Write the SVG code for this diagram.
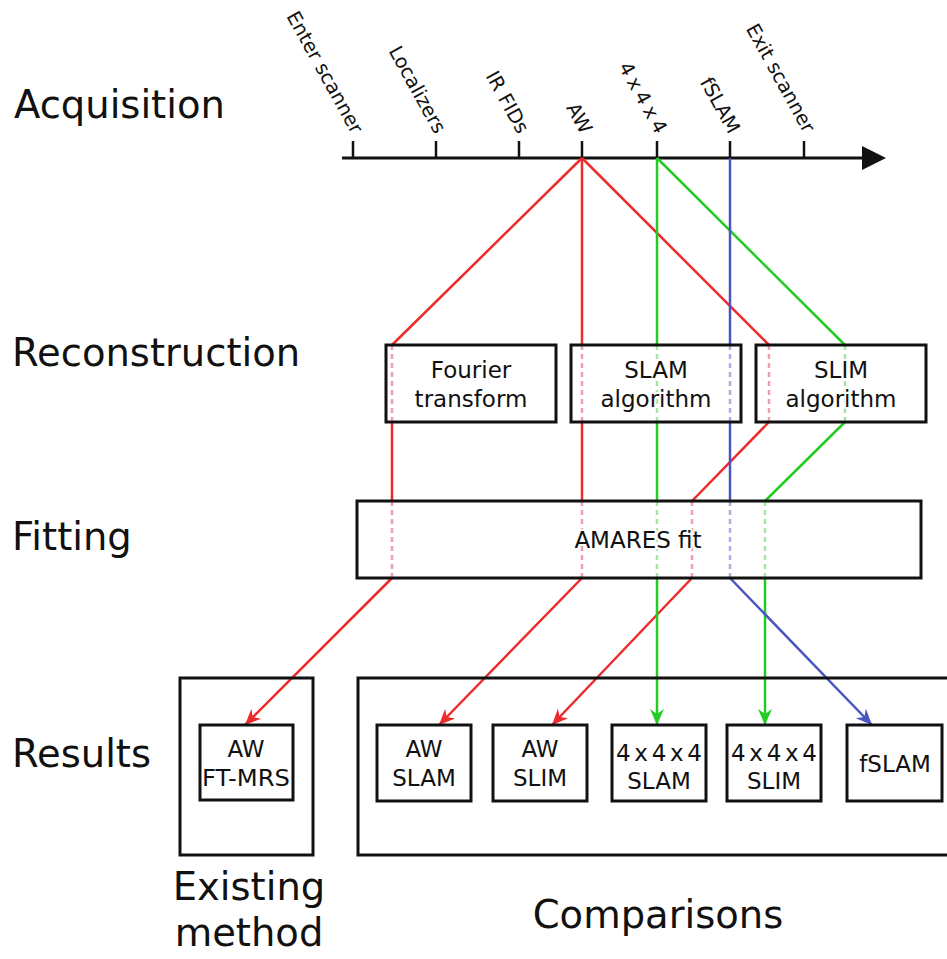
<svg xmlns="http://www.w3.org/2000/svg" width="947" height="959" viewBox="0 0 947 959">
<defs>
<style>
.lbl{font-family:"DejaVu Sans","Verdana",sans-serif;font-size:38.5px;fill:#111}
.tl{font-family:"DejaVu Sans","Verdana",sans-serif;font-size:19.5px;fill:#111}
.bt{font-family:"DejaVu Sans","Verdana",sans-serif;font-size:23px;fill:#111;text-anchor:middle;paint-order:stroke;stroke:#fff;stroke-width:4px;stroke-linejoin:round}
.box{fill:none;stroke:#111;stroke-width:3}
.frame{fill:none;stroke:#111;stroke-width:3}
.r{stroke:#ee2a2a;stroke-width:2.5;fill:none}
.g{stroke:#22cc22;stroke-width:2.5;fill:none}
.b{stroke:#4a55c0;stroke-width:2.5;fill:none}
.rd{stroke:#f0a0a8;stroke-width:2.5;fill:none;stroke-dasharray:5 4}
.gd{stroke:#a8e6a8;stroke-width:2.5;fill:none;stroke-dasharray:5 4}
.bd{stroke:#a8b0e0;stroke-width:2.5;fill:none;stroke-dasharray:5 4}
</style>
<marker id="ar" markerUnits="userSpaceOnUse" viewBox="-17 -8 19 16" refX="0" refY="0" markerWidth="19" markerHeight="16" orient="auto"><path d="M0,0 L-16,-7 L-11,0 L-16,7 Z" fill="#ee2a2a"/></marker>
<marker id="ag" markerUnits="userSpaceOnUse" viewBox="-17 -8 19 16" refX="0" refY="0" markerWidth="19" markerHeight="16" orient="auto"><path d="M0,0 L-16,-7 L-11,0 L-16,7 Z" fill="#22cc22"/></marker>
<marker id="ab" markerUnits="userSpaceOnUse" viewBox="-17 -8 19 16" refX="0" refY="0" markerWidth="19" markerHeight="16" orient="auto"><path d="M0,0 L-16,-7 L-11,0 L-16,7 Z" fill="#4a55c0"/></marker>
</defs>
<rect width="947" height="959" fill="#fff"/>

<g id="stage-labels">
<text class="lbl" x="14" y="118">Acquisition</text>
<text class="lbl" x="12" y="366">Reconstruction</text>
<text class="lbl" x="12" y="550">Fitting</text>
<text class="lbl" x="12" y="767">Results</text>
<text class="lbl" x="249" y="900" text-anchor="middle">Existing</text>
<text class="lbl" x="249" y="946" text-anchor="middle">method</text>
<text class="lbl" x="658" y="928" text-anchor="middle">Comparisons</text>
</g>

<g id="timeline">
<line x1="342" y1="158" x2="864" y2="158" stroke="#111" stroke-width="3"/>
<polygon points="862,146 886,158 862,170" fill="#111"/>
<g stroke="#111" stroke-width="2.5">
<line x1="353" y1="141" x2="353" y2="158"/>
<line x1="436" y1="141" x2="436" y2="158"/>
<line x1="519" y1="141" x2="519" y2="158"/>
<line x1="582" y1="141" x2="582" y2="158"/>
<line x1="657" y1="141" x2="657" y2="158"/>
<line x1="730" y1="141" x2="730" y2="158"/>
<line x1="804" y1="141" x2="804" y2="158"/>
</g>
<g text-anchor="end">
<text class="tl" transform="translate(352,135) rotate(61)">Enter scanner</text>
<text class="tl" transform="translate(435,135) rotate(61)">Localizers</text>
<text class="tl" transform="translate(518,135) rotate(61)">IR FIDs</text>
<text class="tl" transform="translate(581,135) rotate(61)">AW</text>
<text class="tl" transform="translate(656,135) rotate(61)" textLength="78">4 x 4 x 4</text>
<text class="tl" transform="translate(729,135) rotate(61)">fSLAM</text>
<text class="tl" transform="translate(804,134) rotate(61)">Exit scanner</text>
</g>
</g>

<g id="connectors">
<!-- red: AW to FT-MRS -->
<path class="r" d="M582,158 L392,345"/><path class="rd" d="M392,345 V422"/><path class="r" d="M392,422 V501"/><path class="rd" d="M392,501 V578"/><path class="r" d="M392,578 L245,725" marker-end="url(#ar)"/>
<!-- red: AW to AW SLAM -->
<path class="r" d="M582,158 V345"/><path class="rd" d="M582,345 V422"/><path class="r" d="M582,422 V501"/><path class="rd" d="M582,501 V578"/><path class="r" d="M582,578 L439,725" marker-end="url(#ar)"/>
<!-- red: AW to AW SLIM -->
<path class="r" d="M582,158 L769,345"/><path class="rd" d="M769,345 V422"/><path class="r" d="M769,422 L692,501"/><path class="rd" d="M692,501 V578"/><path class="r" d="M692,578 L552,725" marker-end="url(#ar)"/>
<!-- green: 4x4x4 to SLAM -->
<path class="g" d="M657,158 V345"/><path class="gd" d="M657,345 V422"/><path class="g" d="M657,422 V501"/><path class="gd" d="M657,501 V578"/><path class="g" d="M657,578 V725" marker-end="url(#ag)"/>
<!-- green: 4x4x4 to SLIM -->
<path class="g" d="M657,158 L845,345"/><path class="gd" d="M845,345 V422"/><path class="g" d="M845,422 L765,501"/><path class="gd" d="M765,501 V578"/><path class="g" d="M765,578 V725" marker-end="url(#ag)"/>
<!-- blue: fSLAM -->
<path class="b" d="M730,158 V345"/><path class="bd" d="M730,345 V422"/><path class="b" d="M730,422 V501"/><path class="bd" d="M730,501 V578"/><path class="b" d="M730,578 L872,725" marker-end="url(#ab)"/>
</g>

<g id="node-fourier"><rect class="box" x="386" y="345" width="170" height="77"/><text class="bt" x="471" y="378">Fourier</text><text class="bt" x="471" y="407">transform</text></g>
<g id="node-slam-alg"><rect class="box" x="571" y="345" width="170" height="77"/><text class="bt" x="656" y="378">SLAM</text><text class="bt" x="656" y="407">algorithm</text></g>
<g id="node-slim-alg"><rect class="box" x="756" y="345" width="170" height="77"/><text class="bt" x="841" y="378">SLIM</text><text class="bt" x="841" y="407">algorithm</text></g>
<g id="node-amares"><rect class="box" x="357" y="501" width="564" height="77"/><text class="bt" x="638" y="548">AMARES fit</text></g>

<g id="group-existing"><rect class="frame" x="180" y="678" width="133" height="177"/></g>
<g id="group-comparisons"><rect class="frame" x="358" y="678" width="600" height="177"/></g>

<g id="node-aw-ftmrs"><rect class="box" x="200" y="725" width="93" height="75" fill="#fff" style="fill:#fff"/><text class="bt" x="246" y="757">AW</text><text class="bt" x="246" y="786" textLength="88" lengthAdjust="spacingAndGlyphs">FT-MRS</text></g>
<g id="node-aw-slam"><rect class="box" x="377" y="725" width="94" height="76" style="fill:#fff"/><text class="bt" x="424" y="757">AW</text><text class="bt" x="424" y="786">SLAM</text></g>
<g id="node-aw-slim"><rect class="box" x="493" y="725" width="94" height="76" style="fill:#fff"/><text class="bt" x="540" y="757">AW</text><text class="bt" x="540" y="786">SLIM</text></g>
<g id="node-444-slam"><rect class="box" x="612" y="725" width="94" height="76" style="fill:#fff"/><text class="bt" x="659" y="761" textLength="86">4 x 4 x 4</text><text class="bt" x="659" y="789">SLAM</text></g>
<g id="node-444-slim"><rect class="box" x="727" y="725" width="94" height="76" style="fill:#fff"/><text class="bt" x="774" y="761" textLength="86">4 x 4 x 4</text><text class="bt" x="774" y="789">SLIM</text></g>
<g id="node-fslam"><rect class="box" x="847" y="725" width="95" height="76" style="fill:#fff"/><text class="bt" x="895" y="772">fSLAM</text></g>
</svg>
